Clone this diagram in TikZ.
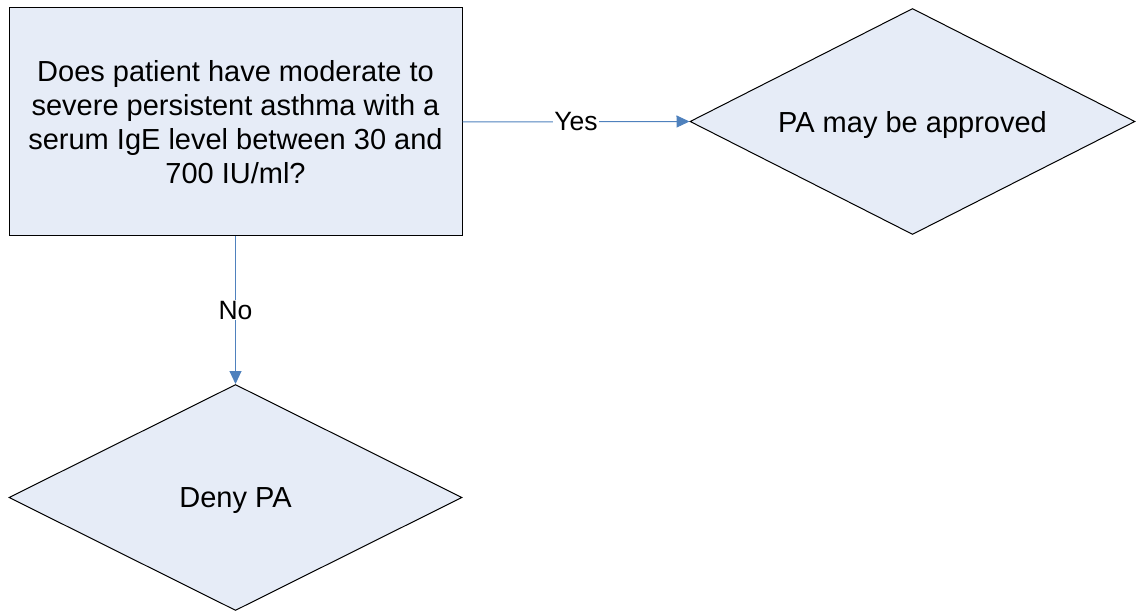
\documentclass[tikz,border=0pt]{standalone}
\usepackage{fontspec}
\setmainfont{Liberation Sans}
\usetikzlibrary{shapes.geometric,arrows.meta}
\definecolor{boxfill}{HTML}{E6ECF7}
\definecolor{linkblue}{HTML}{4F81BD}
\begin{document}
\begin{tikzpicture}[x=1pt,y=-1pt,
  every node/.style={font=\fontsize{29}{34}\selectfont},
  qbox/.style={draw=black,fill=boxfill,line width=1pt,inner sep=0pt,
    minimum width=453pt,minimum height=228pt,align=center},
  decision/.style={draw=black,fill=boxfill,line width=1pt,diamond,inner sep=0pt,
    aspect=1.97,minimum width=#1,minimum height=226pt,text depth=0pt},
  link/.style={draw=linkblue,line width=1pt,-{Triangle[length=13pt,width=12pt]}},
  linklabel/.style={fill=white,inner sep=1pt,font=\fontsize{26.5}{30}\selectfont}]
\useasboundingbox (0,0) rectangle (1137,612);
\node[qbox] (q) at (235.5,122) {Does patient have moderate to\\severe persistent asthma with a\\serum IgE level between 30 and\\700 IU/ml?};
\node[decision=445pt] (yes) at (912.5,121.5) {PA may be approved};
\node[decision=453pt] (no) at (235.5,497.5) {Deny PA};
\draw[link] (q.east) -- node[linklabel] {Yes} (yes.west);
\draw[link] (q.south) -- node[linklabel] {No} (no.north);
\end{tikzpicture}
\end{document}
